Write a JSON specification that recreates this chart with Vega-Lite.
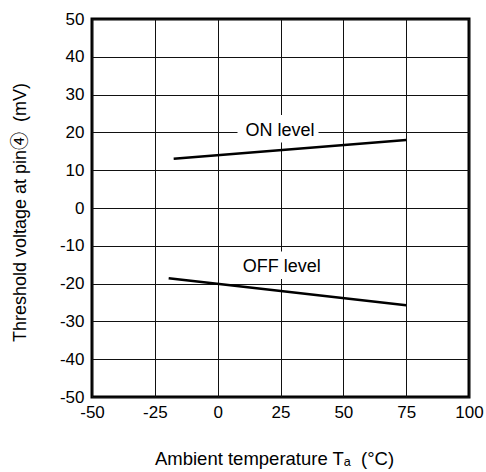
{
  "$schema": "https://vega.github.io/schema/vega-lite/v6.json",
  "width": 377,
  "height": 378,
  "autosize": {"type": "none"},
  "padding": {"left": 92, "top": 19, "right": 17, "bottom": 75},
  "background": "white",
  "config": {
    "font": "Liberation Sans",
    "view": {"stroke": "black", "strokeWidth": 3},
    "axis": {
      "grid": true,
      "gridColor": "#111",
      "gridOpacity": 1,
      "gridWidth": 1,
      "domain": false,
      "ticks": false,
      "labelFont": "Liberation Sans",
      "labelFontSize": 17,
      "labelColor": "black",
      "titleFont": "Liberation Sans, Noto Sans CJK JP",
      "titleFontSize": 18,
      "titleFontWeight": "normal",
      "titleColor": "black",
      "labelFlush": false,
      "labelOverlap": false,
      "labelExpr": "toString(datum.value)"
    }
  },
  "datasets": {
    "curves": [
      {"level": "ON", "Ta": -17.5, "mV": 13.0},
      {"level": "ON", "Ta": 75, "mV": 18.0},
      {"level": "OFF", "Ta": -19.5, "mV": -18.6},
      {"level": "OFF", "Ta": 75, "mV": -25.7}
    ],
    "labels": [
      {"text": "ON level", "Ta": 24.8, "mV": 19.1},
      {"text": "OFF level", "Ta": 25.5, "mV": -17.0}
    ]
  },
  "encoding": {
    "x": {
      "field": "Ta",
      "type": "quantitative",
      "scale": {"domain": [-50, 100], "nice": false, "zero": false},
      "axis": {
        "values": [-50, -25, 0, 25, 50, 75, 100],
        "title": "Ambient temperature Tₐ \u00a0(°C)",
        "titleFontSize": 18.5,
        "labelPadding": 7,
        "titleX": 182,
        "titleY": 67,
        "titleBaseline": "alphabetic",
        "titleAlign": "center"
      }
    },
    "y": {
      "field": "mV",
      "type": "quantitative",
      "scale": {"domain": [-50, 50], "nice": false, "zero": false},
      "axis": {
        "values": [-50, -40, -30, -20, -10, 0, 10, 20, 30, 40, 50],
        "title": "Threshold voltage at pin④ \u00a0(mV)",
        "labelPadding": 8,
        "titleX": -72,
        "titleY": 193,
        "titleAngle": -90,
        "titleBaseline": "middle",
        "titleAlign": "center"
      }
    }
  },
  "layer": [
    {
      "data": {"name": "labels"},
      "mark": {
        "type": "point",
        "shape": "M-1,-0.34L1,-0.34L1,0.34L-1,0.34Z",
        "size": 6561,
        "filled": true,
        "fill": "white",
        "opacity": 1,
        "strokeWidth": 0,
        "yOffset": -7,
        "xOffset": -2
      }
    },
    {
      "data": {"name": "curves"},
      "mark": {"type": "line", "color": "black", "strokeWidth": 2.5},
      "encoding": {
        "detail": {"field": "level"}
      }
    },
    {
      "data": {"name": "labels"},
      "mark": {"type": "text", "fontSize": 18, "font": "Liberation Sans", "color": "black", "baseline": "alphabetic", "align": "center"},
      "encoding": {
        "text": {"field": "text"}
      }
    }
  ]
}
